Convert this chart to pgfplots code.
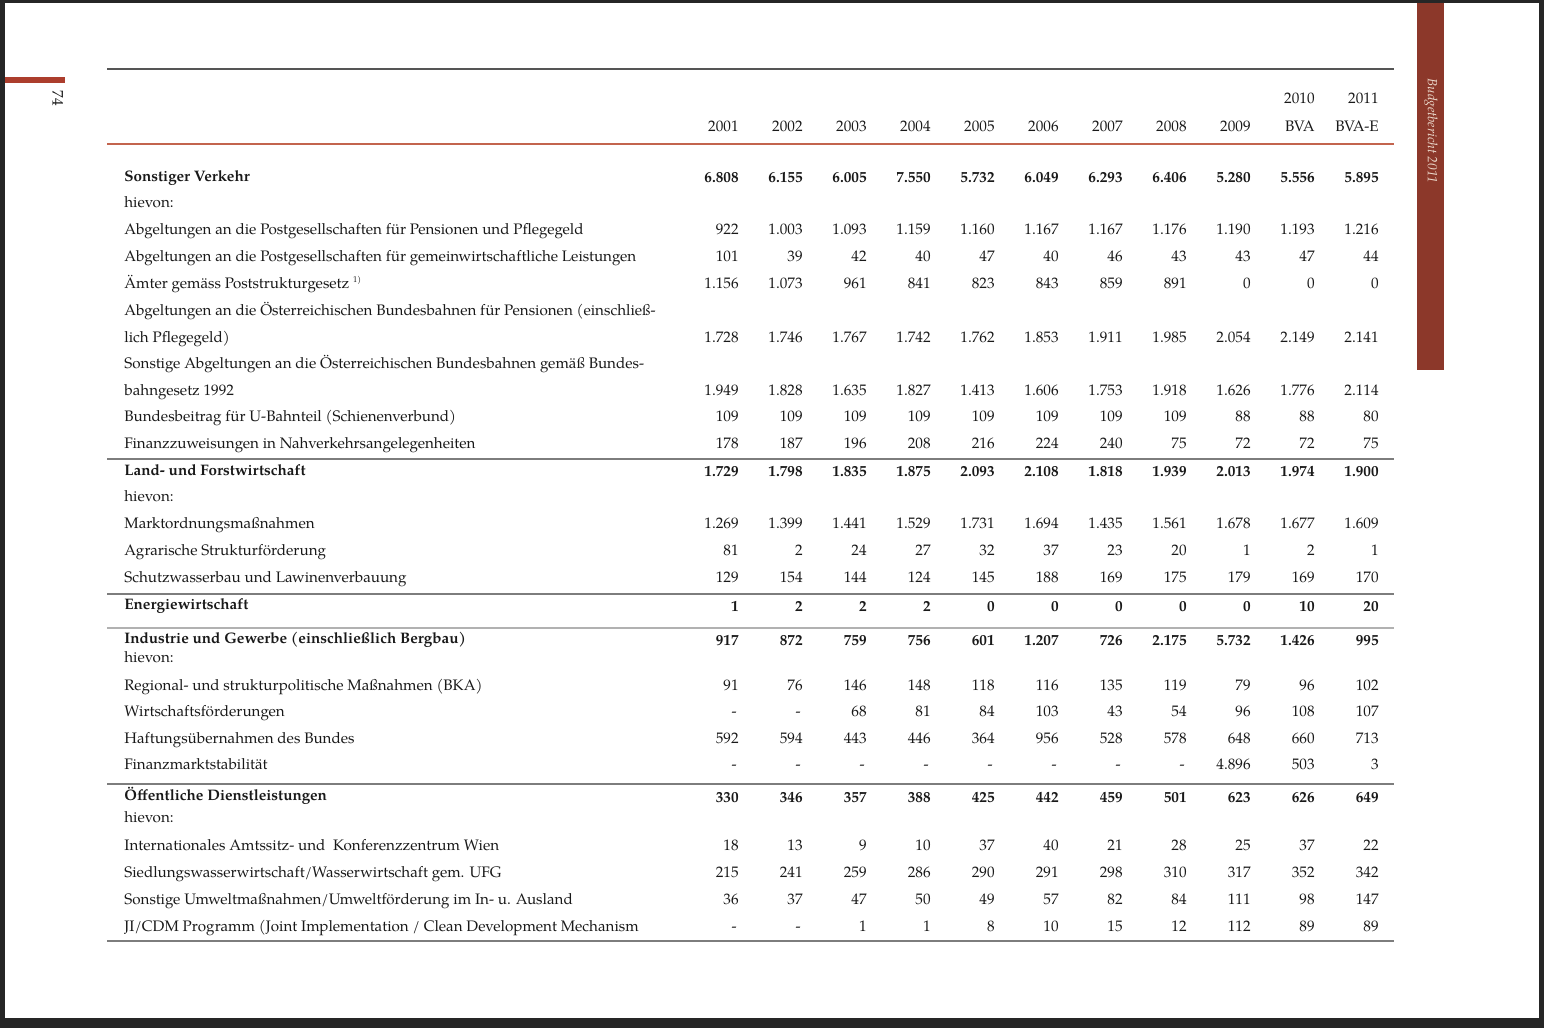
\documentclass[border=0pt]{standalone}
\usepackage{fontspec}
\setmainfont{texgyrepagella}[Extension=.otf, UprightFont=*-regular, BoldFont=*-bold, ItalicFont=*-italic, BoldItalicFont=*-bolditalic]
\usepackage{pgfplots}
\usepackage{pgfplotstable}
\pgfplotsset{compat=1.18}
\definecolor{textc}{RGB}{25,25,25}
\definecolor{redbar}{RGB}{172,62,45}
\definecolor{darkbar}{RGB}{140,56,42}
\definecolor{barText}{RGB}{236,218,205}
\definecolor{headline}{RGB}{195,100,78}
\definecolor{topline}{RGB}{85,85,85}
\definecolor{sepline}{RGB}{125,125,125}
\newcommand\tfont{\fontsize{7.6}{9}\selectfont}
\DeclareRobustCommand\fnone{\raisebox{0.75ex}{\fontsize{4.2}{5}\selectfont 1)}}
\def\dashstr{-}
\newcommand\fmtval[1]{\edef\tmpv{#1}\ifx\tmpv\dashstr -\kern1pt\else\pgfmathprintnumber[fixed,precision=0,1000 sep={.},assume math mode=true]{\tmpv}\fi}

% numeric rows: y = baseline (pixel), c1..c11 = 2001..2009, 2010 BVA, 2011 BVA-E
\pgfplotstableread{
y   c1   c2   c3   c4   c5   c6   c7   c8   c9   c10  c11
182 6808 6155 6005 7550 5732 6049 6293 6406 5280 5556 5895
476 1729 1798 1835 1875 2093 2108 1818 1939 2013 1974 1900
611 1    2    2    2    0    0    0    0    0    10   20
645 917  872  759  756  601  1207 726  2175 5732 1426 995
802 330  346  357  388  425  442  459  501  623  626  649
}\boldrows
\pgfplotstableread{
y   c1   c2   c3   c4   c5   c6   c7   c8   c9   c10  c11
234 922  1003 1093 1159 1160 1167 1167 1176 1190 1193 1216
261 101  39   42   40   47   40   46   43   43   47   44
288 1156 1073 961  841  823  843  859  891  0    0    0
342 1728 1746 1767 1742 1762 1853 1911 1985 2054 2149 2141
395 1949 1828 1635 1827 1413 1606 1753 1918 1626 1776 2114
421 109  109  109  109  109  109  109  109  88   88   80
448 178  187  196  208  216  224  240  75   72   72   75
528 1269 1399 1441 1529 1731 1694 1435 1561 1678 1677 1609
555 81   2    24   27   32   37   23   20   1    2    1
582 129  154  144  124  145  188  169  175  179  169  170
690 91   76   146  148  118  116  135  119  79   96   102
716 -    -    68   81   84   103  43   54   96   108  107
743 592  594  443  446  364  956  528  578  648  660  713
769 -    -    -    -    -    -    -    -    4896 503  3
850 18   13   9    10   37   40   21   28   25   37   22
877 215  241  259  286  290  291  298  310  317  352  342
904 36   37   47   50   49   57   82   84   111  98   147
931 -    -    1    1    8    10   15   12   112  89   89
}\normalrows

\begin{document}
\begin{tikzpicture}
\begin{axis}[
  width=772pt, height=514pt, scale only axis,
  xmin=0, xmax=1544, ymin=0, ymax=1028, y dir=reverse,
  hide axis, clip=false,
  textnodes/.style={draw=none, mark=none, point meta=explicit symbolic,
    nodes near coords,
    every node near coord/.append style={anchor=base west, inner sep=0pt, font=\tfont, text=textc}},
  numnodes/.style={draw=none, mark=none, point meta=explicit symbolic,
    nodes near coords={\fmtval{\pgfplotspointmeta}},
    every node near coord/.append style={anchor=base east, inner sep=0pt, font=\tfont, text=textc}},
]
% page / scan border
\addplot[fill=black!85, draw=none] coordinates {(0,0) (1544,0) (1544,1028) (0,1028)};
\addplot[fill=white, draw=none] coordinates {(5,3) (1539,3) (1539,1018) (5,1018)};
% decorative bars
\addplot[fill=redbar, draw=none] coordinates {(5,77) (65,77) (65,83) (5,83)};
\addplot[fill=darkbar, draw=none] coordinates {(1417,3) (1444,3) (1444,370) (1417,370)};
\addplot[textnodes, every node near coord/.append style={anchor=center, rotate=-90, font=\tfont, text=textc}] coordinates {(58,98) [74]};
\addplot[textnodes, every node near coord/.append style={anchor=center, rotate=-90, font=\fontsize{6.7}{8}\selectfont\itshape, text=barText}] coordinates {(1431,131) [Budgetbericht 2011]};
% rules
\addplot[topline, line width=0.7pt] coordinates {(107,69) (1394,69)};
\addplot[headline, line width=0.8pt] coordinates {(107,144) (1394,144)};
\addplot[sepline, line width=0.6pt] coordinates {(107,459) (1394,459)};
\addplot[sepline, line width=0.6pt] coordinates {(107,594) (1394,594)};
\addplot[sepline!60, line width=0.6pt] coordinates {(107,628) (1394,628)};
\addplot[sepline, line width=0.6pt] coordinates {(107,784) (1394,784)};
\addplot[sepline, line width=0.6pt] coordinates {(107,941) (1394,941)};
% header
\addplot[numnodes, nodes near coords={\pgfplotspointmeta}] coordinates {
 (739,131) [2001] (803,131) [2002] (867,131) [2003] (931,131) [2004]
 (995,131) [2005] (1059,131) [2006] (1123,131) [2007] (1187,131) [2008]
 (1251,131) [2009] (1315,131) [BVA] (1379,131) [BVA-E]
 (1315,103) [2010] (1379,103) [2011]};
% row labels
\addplot[textnodes, every node near coord/.append style={font=\tfont\bfseries}] coordinates {
 (124,181) [Sonstiger Verkehr]
 (124,475) [Land- und Forstwirtschaft]
 (124,609) [Energiewirtschaft]
 (124,643) [Industrie und Gewerbe (einschließlich Bergbau)]
 (124,800) [Öffentliche Dienstleistungen]};
\addplot[textnodes] coordinates {
 (124,207) [hievon:]
 (124,234) [Abgeltungen an die Postgesellschaften für Pensionen und Pflegegeld]
 (124,261) [Abgeltungen an die Postgesellschaften für gemeinwirtschaftliche Leistungen]
 (124,288) [{Ämter gemäss Poststrukturgesetz \fnone}]
 (124,315) [Abgeltungen an die Österreichischen Bundesbahnen für Pensionen (einschließ-]
 (124,342) [lich Pflegegeld)]
 (124,368) [Sonstige Abgeltungen an die Österreichischen Bundesbahnen gemäß Bundes-]
 (124,395) [bahngesetz 1992]
 (124,421) [Bundesbeitrag für U-Bahnteil (Schienenverbund)]
 (124,448) [Finanzzuweisungen in Nahverkehrsangelegenheiten]
 (124,501) [hievon:]
 (124,528) [Marktordnungsmaßnahmen]
 (124,555) [Agrarische Strukturförderung]
 (124,582) [Schutzwasserbau und Lawinenverbauung]
 (124,662) [hievon:]
 (124,690) [Regional- und strukturpolitische Maßnahmen (BKA)]
 (124,716) [Wirtschaftsförderungen]
 (124,743) [Haftungsübernahmen des Bundes]
 (124,769) [Finanzmarktstabilität]
 (124,822) [hievon:]
 (124,850) [Internationales Amtssitz- und~ Konferenzzentrum Wien]
 (124,877) [Siedlungswasserwirtschaft/Wasserwirtschaft gem. UFG]
 (124,904) [Sonstige Umweltmaßnahmen/Umweltförderung im In- u. Ausland]
 (124,931) [JI/CDM Programm (Joint Implementation / Clean Development Mechanism]};
% values
\pgfplotsinvokeforeach{1,...,11}{
  \addplot[numnodes, every node near coord/.append style={font=\tfont\bfseries}] table[x expr={675+64*#1}, y=y, meta=c#1] {\boldrows};
  \addplot[numnodes] table[x expr={675+64*#1}, y=y, meta=c#1] {\normalrows};
}
\end{axis}
\end{tikzpicture}
\end{document}
